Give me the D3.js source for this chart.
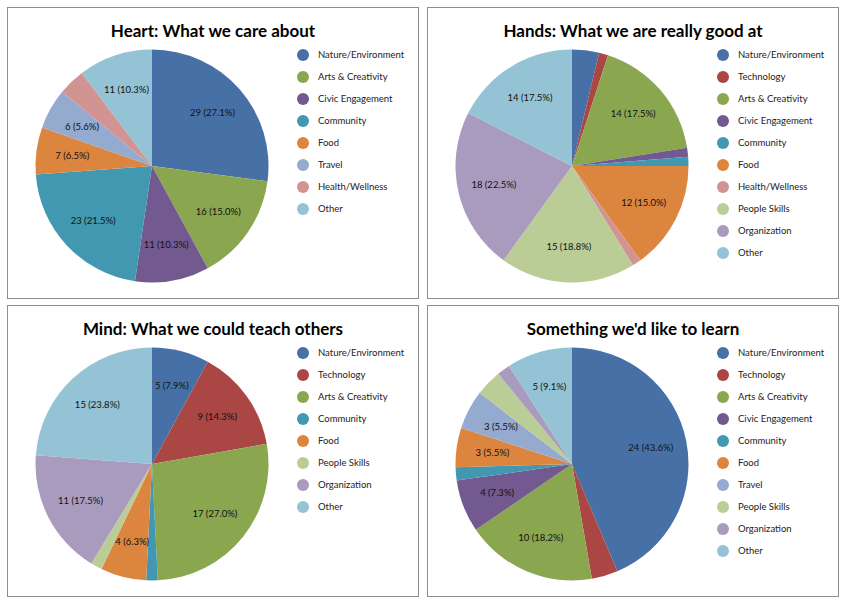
<!DOCTYPE html>
<html>
<head>
<meta charset="utf-8">
<script src="https://cdn.jsdelivr.net/npm/d3@7"></script>
<style>
  body { margin: 0; background: #fff; }
  svg { display: block; }
</style>
</head>
<body>
<div id="svg-container"></div>
<script>
/// DATA

const heartCategories = ["Nature/Environment", "Arts & Creativity", "Civic Engagement", "Community", "Food", "Travel", "Health/Wellness", "Other"]
const heartValues = [29, 16, 11, 23, 7, 6, 4, 11]

const handsCategories = ["Nature/Environment", "Technology", "Arts & Creativity", "Civic Engagement", "Community", "Food", "Health/Wellness", "People Skills", "Organization", "Other"]
const handsValues = [3, 1, 14, 1, 1, 12, 1, 15, 18, 14]

const mindCategories = ["Nature/Environment", "Technology", "Arts & Creativity", "Community", "Food", "People Skills", "Organization", "Other"]
const mindValues = [5, 9, 17, 1, 4, 1, 11, 15]

const learnCategories = ["Nature/Environment", "Technology", "Arts & Creativity", "Civic Engagement", "Community", "Food", "Travel", "People Skills", "Organization", "Other"]
const learnValues = [24, 2, 10, 4, 1, 3, 3, 2, 1, 5]

const titles = [
  "Heart: What we care about",
  "Hands: What we are really good at",
  "Mind: What we could teach others",
  "Something we'd like to learn",
]

const charts = [
  { title: titles[0], categories: heartCategories, values: heartValues },
  { title: titles[1], categories: handsCategories, values: handsValues },
  { title: titles[2], categories: mindCategories, values: mindValues },
  { title: titles[3], categories: learnCategories, values: learnValues },
]

const width = 844
const height = 604

const panels = [
  { x: 7.5, y: 7.5 },
  { x: 427.5, y: 7.5 },
  { x: 7.5, y: 305.5 },
  { x: 427.5, y: 305.5 },
]
const panelWidth = 411
const panelHeight = 291

const radius = 116.5

/// SCALES

const colorScale = d3
  .scaleOrdinal()
  .domain([
    "Nature/Environment",
    "Technology",
    "Arts & Creativity",
    "Civic Engagement",
    "Community",
    "Food",
    "Travel",
    "Health/Wellness",
    "People Skills",
    "Organization",
    "Other",
  ])
  .range([
    "#4771A6",
    "#AA4644",
    "#8AA64F",
    "#72598F",
    "#4298B0",
    "#DC853F",
    "#94AACF",
    "#D29493",
    "#BACD97",
    "#A99BBE",
    "#93C3D5",
  ])

const svg = d3
  .select("#svg-container")
  .append("svg")
  .attr("width", width)
  .attr("height", height)
  .attr("viewBox", [0, 0, width, height])

const pieGenerator = d3
  .pie()
  .sort(null)
  .value((d) => d.value)

const arcGenerator = d3.arc().innerRadius(0).outerRadius(radius)
const labelArc = d3.arc().innerRadius(radius * 0.69).outerRadius(radius * 0.69)

charts.forEach((chart, i) => {
  const data = chart.categories.map((c, j) => ({ name: c, value: chart.values[j] }))
  const total = d3.sum(chart.values)

  const panel = svg
    .append("g")
    .attr("class", "panel")
    .attr("transform", `translate(${panels[i].x},${panels[i].y})`)

  panel
    .append("rect")
    .attr("width", panelWidth)
    .attr("height", panelHeight)
    .attr("fill", "#fff")
    .attr("stroke", "#8e8e8e")
    .attr("stroke-width", 1)

  panel
    .append("text")
    .attr("x", panelWidth / 2)
    .attr("y", 29.5)
    .attr("text-anchor", "middle")
    .style("font-family", "Lato, 'Open Sans', sans-serif")
    .style("font-weight", "bold")
    .style("font-size", "17px")
    .style("fill", "#000")
    .text(chart.title)

  const pieGroup = panel
    .append("g")
    .attr("transform", `translate(${144.5},${158.5})`)

  const arcs = pieGenerator(data)

  pieGroup
    .selectAll("path")
    .data(arcs)
    .join("path")
    .attr("d", arcGenerator)
    .attr("fill", (d) => colorScale(d.data.name))

  pieGroup
    .selectAll("text")
    .data(arcs.filter((d) => d.data.value / total >= 0.045))
    .join("text")
    .attr("transform", (d) => `translate(${labelArc.centroid(d)})`)
    .attr("text-anchor", "middle")
    .attr("dy", "0.35em")
    .style("font-family", "Lato, 'Open Sans', sans-serif")
    .style("font-size", "9.5px")
    .style("fill", "#111")
    .text((d) => `${d.data.value} (${d3.format(".1f")((d.data.value / total) * 100)}%)`)

  const legend = panel
    .append("g")
    .attr("class", "legend")
    .selectAll("g")
    .data(chart.categories)
    .join("g")
    .attr("transform", (d, j) => `translate(${295.5},${47.5 + j * 22})`)

  legend
    .append("circle")
    .attr("r", 6)
    .attr("fill", (d) => colorScale(d))

  legend
    .append("text")
    .attr("x", 15)
    .attr("dy", "0.35em")
    .style("font-family", "Lato, 'Open Sans', sans-serif")
    .style("font-size", "9.5px")
    .style("fill", "#222")
    .text((d) => d)
})
</script>
</body>
</html>
